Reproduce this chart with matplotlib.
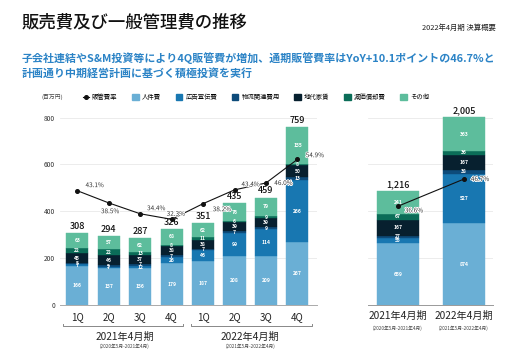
import numpy as np
import matplotlib.pyplot as plt
import matplotlib.patheffects as pe
from matplotlib.lines import Line2D
from matplotlib.patches import Patch

plt.rcParams['font.family'] = ['Noto Sans CJK JP', 'DejaVu Sans']

# ---- data (百万円) ----
quarters = ["1Q", "2Q", "3Q", "4Q", "1Q", "2Q", "3Q", "4Q"]
series_names = ["人件費", "広告宣伝費", "物流関連費用", "地代家賃", "減価償却費", "その他"]
colors = ["#6aafd5", "#1877b1", "#0d4b7a", "#07202f", "#0b6d58", "#5dbd9c"]

personnel = [166, 157, 156, 179, 187, 208, 209, 267]
advert = [7, 7, 12, 26, 46, 99, 114, 266]
logistics = [5, 5, 7, 7, 7, 7, 9, 13]
rent = [45, 46, 37, 38, 38, 39, 39, 50]
deprec = [22, 22, 13, 8, 11, 6, 9, 8]
other = [63, 57, 62, 68, 62, 76, 79, 155]
totals_q = [308, 294, 287, 326, 351, 435, 459, 759]
ratio_q = [43.1, 38.5, 34.4, 32.3, 38.2, 43.4, 46.0, 54.9]

years = ["2021年4月期", "2022年4月期"]
year_sub = ["(2020年5月-2021年4月)", "(2021年5月-2022年4月)"]
personnel_y = [659, 874]
advert_y = [55, 527]
logistics_y = [27, 38]
rent_y = [167, 167]
deprec_y = [67, 36]
other_y = [241, 363]
totals_y = [1216, 2005]
ratio_y = [36.6, 46.7]

# label offsets for the ratio text (points)
ratio_q_off = [(6, 4), (1, -6), (5, 4), (3, 4), (7, -4), (5, 4), (6, 0), (6, 3)]
ratio_y_off = [(5, -3), (5, 0)]

fig = plt.figure(figsize=(5.12, 3.53), dpi=100)
fig.patch.set_facecolor("white")

fig.text(0.043, 0.938, "販売費及び一般管理費の推移", fontsize=12.5, fontweight="medium",
         color="#111111", va="center")
fig.text(0.968, 0.922, "2022年4月期 決算概要", fontsize=5.3, color="#222222",
         ha="right", va="center")
blue = "#2b83c6"
fig.text(0.043, 0.835, "子会社連結やS&M投資等により4Q販管費が増加、通期販管費率はYoY+10.1ポイントの46.7%と",
         fontsize=7.9, fontweight="bold", color=blue, va="center")
fig.text(0.043, 0.792, "計画通り中期経営計画に基づく積極投資を実行",
         fontsize=7.9, fontweight="bold", color=blue, va="center")


def stack(ax, x, segs, width, totals, fs_seg, fs_tot):
    bottom = np.zeros(len(x))
    for vals, c in zip(segs, colors):
        vals = np.array(vals, dtype=float)
        ax.bar(x, vals, width, bottom=bottom, color=c, edgecolor=c, linewidth=0.3, zorder=2)
        for xi, b, v in zip(x, bottom, vals):
            ax.text(xi, b + v / 2, f"{int(v)}", ha="center", va="center",
                    fontsize=fs_seg, color="white", fontweight="bold", zorder=3)
        bottom += vals
    for xi, t in zip(x, totals):
        ax.annotate(f"{t:,}", (xi, t), xytext=(0, 1.5), textcoords="offset points",
                    ha="center", va="bottom", fontsize=fs_tot, fontweight="medium",
                    color="#111111", zorder=4)


def style(ax):
    for s in ["top", "right", "left"]:
        ax.spines[s].set_visible(False)
    ax.spines["bottom"].set_color("#aaaaaa")
    ax.spines["bottom"].set_linewidth(0.7)
    ax.grid(axis="y", color="#e9e9e9", linewidth=0.6, zorder=0)
    ax.set_axisbelow(True)
    ax.tick_params(length=0)


def ratio_line(ax, x, r, offs, rmax):
    ax2 = ax.twinx()
    ax2.set_ylim(0, rmax)
    ax2.axis("off")
    ax2.plot(x, r, color="#111111", lw=0.8, marker="o", ms=2.6, zorder=5)
    for xi, ri, (dx, dy) in zip(x, r, offs):
        ax2.annotate(f"{ri:.1f}%", (xi, ri), xytext=(dx, dy), textcoords="offset points",
                     ha="left" if dx > 3 else "center", va="center", fontsize=4.6,
                     color="#333333", zorder=6,
                     path_effects=[pe.withStroke(linewidth=1.2, foreground="white")])
    return ax2


# ---- quarterly panel ----
axq = fig.add_axes([0.117, 0.136, 0.502, 0.544])
xq = np.arange(len(quarters))
stack(axq, xq, [personnel, advert, logistics, rent, deprec, other], 0.7, totals_q, 3.6, 6.5)
axq.set_xlim(-0.55, 7.62)
axq.set_ylim(0, 820)
axq.set_yticks([0, 200, 400, 600, 800])
axq.set_yticklabels(["0", "200", "400", "600", "800"], fontsize=4.8, color="#333333")
axq.set_xticks(xq)
axq.set_xticklabels(quarters, fontsize=7, color="#222222")
axq.tick_params(axis="x", pad=5)
style(axq)
ratio_line(axq, xq, ratio_q, ratio_q_off, 72.4)

# period brackets
for i, (lo, hi) in enumerate([(-0.45, 3.35), (3.62, 7.45)]):
    ytr = axq.get_xaxis_transform()
    axq.plot([lo, lo, hi, hi], [-0.1, -0.112, -0.112, -0.1], transform=ytr,
             color="#888888", lw=0.7, clip_on=False)
    mid = (i * 4 + 1.5)
    axq.text(mid, -0.165, years[i], transform=ytr, ha="center", va="center",
             fontsize=7.3, color="#222222")
    axq.text(mid, -0.215, year_sub[i], transform=ytr, ha="center", va="center",
             fontsize=3.4, color="#444444")

# ---- annual panel ----
axy = fig.add_axes([0.719, 0.136, 0.244, 0.544])
xy = np.arange(len(years))
stack(axy, xy, [personnel_y, advert_y, logistics_y, rent_y, deprec_y, other_y], 0.64,
      totals_y, 3.6, 6.5)
axy.set_xlim(-0.45, 1.44)
axy.set_ylim(0, 2050)
axy.set_yticks([0, 500, 1000, 1500, 2000])
axy.set_yticklabels([])
axy.set_xticks(xy)
axy.set_xticklabels(years, fontsize=7.3, color="#222222")
axy.tick_params(axis="x", pad=4)
style(axy)
axy.spines["bottom"].set_color("#999999")
for xi, s in zip(xy, year_sub):
    axy.text(xi, -0.12, s, transform=axy.get_xaxis_transform(), ha="center",
             va="center", fontsize=3.4, color="#444444")
ratio_line(axy, xy, ratio_y, ratio_y_off, 71.2)

# ---- legend ----
fig.text(0.082, 0.725, "(百万円)", fontsize=4.2, color="#444444", va="center")
handles = [Line2D([0], [0], color="#111111", lw=0.8, marker="o", ms=2.6)]
handles += [Patch(facecolor=c, edgecolor=c) for c in colors]
labels = ["販管費率"] + series_names
fig.legend(handles, labels, loc="center left", bbox_to_anchor=(0.155, 0.725), ncol=7,
           frameon=False, fontsize=4.6, handlelength=1.0, handleheight=1.0,
           handletextpad=0.5, columnspacing=2.3, borderpad=0)

fig.savefig("out.png", dpi=100, facecolor="white")
